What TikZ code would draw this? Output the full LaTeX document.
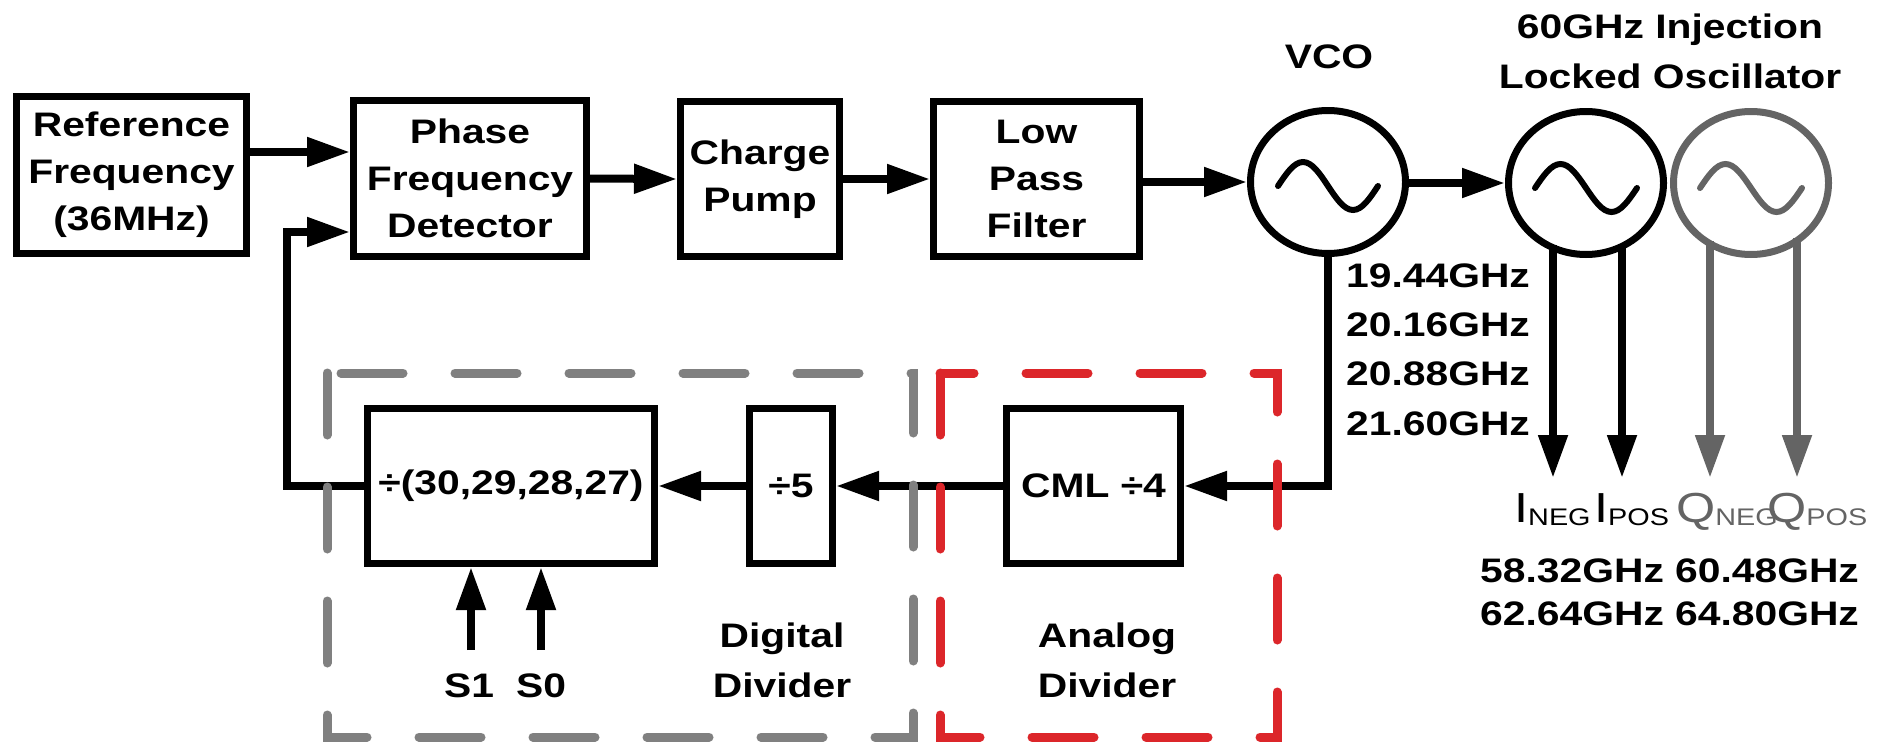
\documentclass[tikz,border=0pt]{standalone}
\usepackage{fontspec}
\setmainfont{Liberation Sans}[FakeStretch=1.2]
\usetikzlibrary{arrows.meta,shapes.geometric,calc}
\definecolor{dred}{RGB}{220,38,42}
\definecolor{dgray}{RGB}{128,128,128}
\definecolor{igray}{RGB}{100,100,100}
\begin{document}
\begin{tikzpicture}[x=1pt,y=-1pt,
  blk/.style={draw,line width=7pt,inner sep=0pt,align=center,font=\bfseries\fontsize{34}{47}\selectfont},
  osc/.style={draw,ellipse,line width=7pt,minimum width=155pt,minimum height=143pt,inner sep=0pt},
  arr/.style={line width=8pt,-{Triangle[length=43pt,width=28pt]}},
  wave/.style={line width=6pt,line cap=round},
  lbl/.style={inner sep=0pt,font=\bfseries\fontsize{34}{47}\selectfont},
  dbox/.style={line width=9pt,line cap=round,dash pattern=on 62pt off 52pt},
  sig/.style={inner sep=0pt,anchor=base west}
]
\useasboundingbox (0,0) rectangle (1879,744);

% top row blocks
\node[blk,minimum width=230pt,minimum height=157pt] (ref) at (131.5,175) {Reference\\Frequency\\(36MHz)};
\node[blk,minimum width=233pt,minimum height=156pt] (pfd) at (470,178.5) {Phase\\Frequency\\Detector};
\node[blk,minimum width=159pt,minimum height=155pt] (cp) at (760,179) {Charge\\Pump};
\node[blk,minimum width=206pt,minimum height=155pt] (lpf) at (1036.5,179) {Low\\Pass\\Filter};

% oscillators
\node[osc] (vco) at (1328,182) {};
\node[osc] (ilo1) at (1586,183) {};
\node[osc,draw=igray] (ilo2) at (1751,183) {};

\draw[wave] ($(vco.center)+(-50,4)$) sin ++(25,-24) cos ++(25,24) sin ++(25,24) cos ++(25,-24);
\draw[wave] ($(ilo1.center)+(-51,5)$) sin ++(25.5,-24) cos ++(25.5,24) sin ++(25.5,24) cos ++(25.5,-24);
\draw[wave,igray] ($(ilo2.center)+(-51,5)$) sin ++(25.5,-24) cos ++(25.5,24) sin ++(25.5,24) cos ++(25.5,-24);

\node[lbl,anchor=base] (vcot) at (1329,68) {VCO};
\node[lbl,anchor=base,align=center,font=\bfseries\fontsize{34}{50}\selectfont] (ilot) at (1670,88) {60GHz Injection\\Locked Oscillator};

% bottom row blocks
\node[blk,minimum width=287pt,minimum height=155pt] (div30) at (511,486) {÷(30,29,28,27)};
\node[blk,minimum width=83pt,minimum height=155pt] (div5) at (791,486) {÷5};
\node[blk,minimum width=174pt,minimum height=155pt] (cml) at (1093.5,486) {CML ÷4};

% coordinates
\coordinate (pfdA) at ([yshift=26.5pt]pfd.west);
\coordinate (pfdB) at ([yshift=-53.5pt]pfd.west);
\coordinate (fbx) at (287,0);
\coordinate (s1b) at (471,650);
\coordinate (s0b) at (541,650);

% connectors top
\draw[arr] (ref.east |- pfdA) -- (pfdA);
\draw[arr] (pfd.east) -- (cp.west);
\draw[arr] (cp.east) -- (lpf.west);
\draw[arr] (lpf.east |- vco.west) -- (vco.west);
\draw[arr] (vco.east |- ilo1.west) -- (ilo1.west);

% VCO to divider chain
\draw[arr] (vco.south) -- (vco.south |- cml.east) -- (cml.east);
\draw[arr] (cml.west) -- (div5.east);
\draw[arr] (div5.west) -- (div30.east);
\draw[arr] (div30.west) -- (fbx |- div30.west) -- (fbx |- pfdB) -- (pfdB);

% select inputs
\draw[arr] (s1b) -- (s1b |- div30.south);
\draw[arr] (s0b) -- (s0b |- div30.south);
\node[lbl,anchor=base] (s1) at (469,697) {S1};
\node[lbl,anchor=base] (s0) at (541,697) {S0};

% ILO outputs
\draw[arr] ($(ilo1.center)+(-33,62)$) -- ($(ilo1.center)+(-33,295)$);
\draw[arr] ($(ilo1.center)+(36,61)$) -- ($(ilo1.center)+(36,295)$);
\draw[arr,igray] ($(ilo2.center)+(-41,58)$) -- ($(ilo2.center)+(-41,295)$);
\draw[arr,igray] ($(ilo2.center)+(46,55)$) -- ($(ilo2.center)+(46,295)$);

% frequency labels
\node[lbl,anchor=base west,align=left,font=\bfseries\fontsize{34}{49.3}\selectfont] (vfreq) at (1346,435) {19.44GHz\\20.16GHz\\20.88GHz\\21.60GHz};
\node[lbl,anchor=base west,align=left,font=\bfseries\fontsize{34}{43}\selectfont] (ofreq) at (1480,625) {58.32GHz 60.48GHz\\62.64GHz 64.80GHz};

% output signal names
\node[sig] (ineg) at (1514,522) {\fontsize{42}{42}\selectfont I\fontsize{24}{24}\selectfont\raisebox{-3pt}{NEG}};
\node[sig] (ipos) at (1594,522) {\fontsize{42}{42}\selectfont I\fontsize{24}{24}\selectfont\raisebox{-3pt}{POS}};
\node[sig,text=igray] (qneg) at (1676,522) {\fontsize{42}{42}\selectfont Q\fontsize{24}{24}\selectfont\raisebox{-3pt}{NEG}};
\node[sig,text=igray] (qpos) at (1767,522) {\fontsize{42}{42}\selectfont Q\fontsize{24}{24}\selectfont\raisebox{-3pt}{POS}};

% divider labels
\node[lbl,anchor=base,align=center,font=\bfseries\fontsize{34}{50}\selectfont] (dig) at (782,697) {Digital\\Divider};
\node[lbl,anchor=base,align=center,font=\bfseries\fontsize{34}{50}\selectfont] (ana) at (1107,697) {Analog\\Divider};

% dashed groups
\draw[dbox,dgray] (327,373) rectangle (913,737);
\draw[dbox,dred] (940,373) rectangle (1277,737);
\end{tikzpicture}
\end{document}
